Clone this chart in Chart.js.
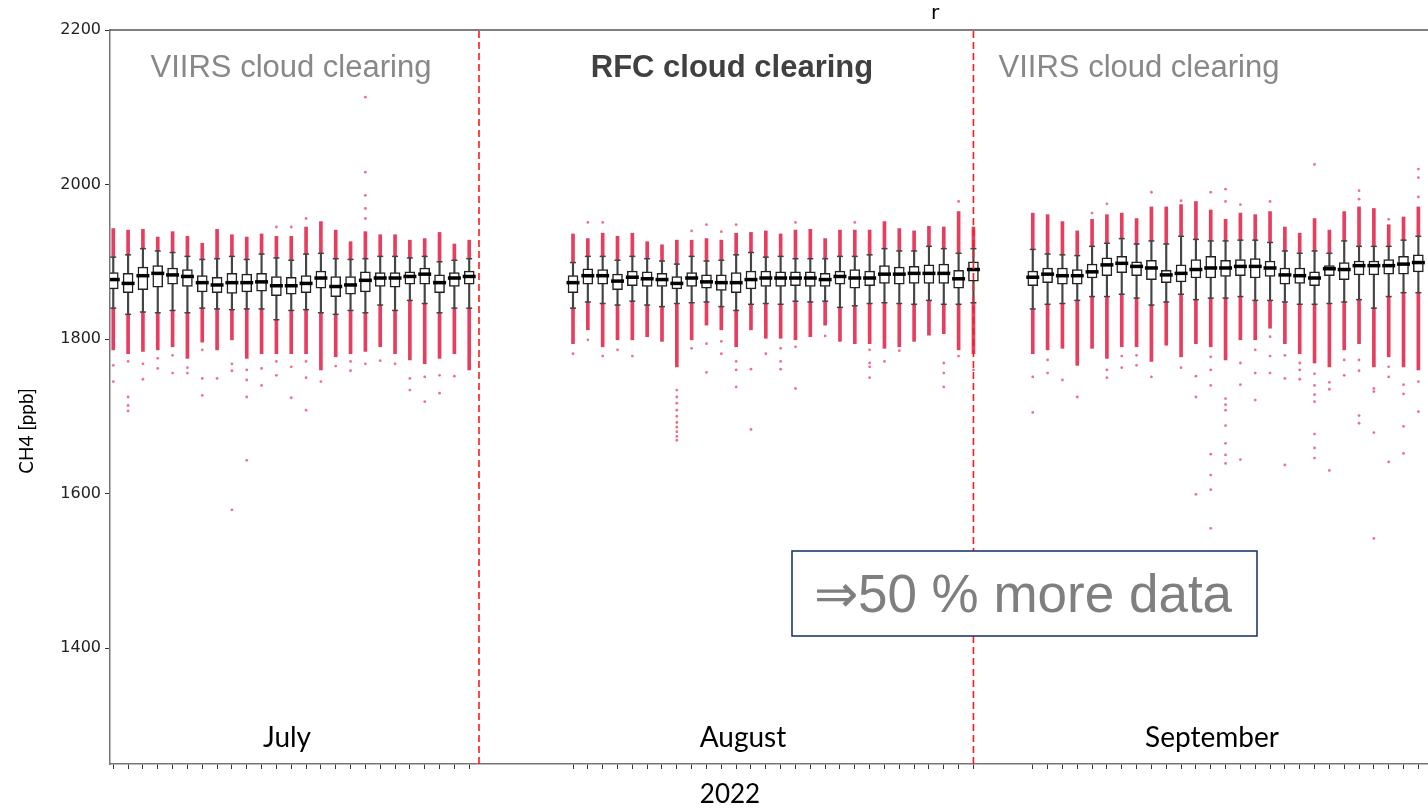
<!DOCTYPE html>
<html>
<head>
<meta charset="utf-8">
<script src="https://cdn.jsdelivr.net/npm/chart.js@4.4.1/dist/chart.umd.min.js"></script>
<style>
  html, body { margin: 0; padding: 0; background: #fff; overflow: hidden; }
  #wrap { width: 1428px; height: 808px; position: relative; }
</style>
</head>
<body>
<div id="wrap"><canvas id="chart"></canvas></div>
<script>
// dias con datos en cada mes y su desplazamiento en el eje (dias desde el 1 de julio)
const julyDays = [1,2,3,4,5,6,7,8,9,10,11,12,13,14,15,16,17,18,19,20,21,22,23,24,25];
const augDays = [1,2,3,4,5,6,7,8,9,10,11,12,13,14,15,16,17,18,19,20,21,22,23,24,25,26,27,28];
const sepDays = [1,2,3,4,5,6,7,8,9,10,11,12,13,14,15,16,17,18,19,20,21,22,23,24,25,26,27];
const monthOffset = [0, 31, 62];
const monthNames = ["July", "August", "September"];

// cajas: bigote inferior, Q1, mediana, Q3, bigote superior (ppb)
const whisLo = [
  1840,1832,1835,1834,1837,1834,1840,1839,1838,1839,1839,1825,1837,1838,1834,1832,1837,1834,1844,1837,1850,1846,1834,1840,1840,
  1840,1848,1846,1844,1849,1844,1842,1846,1847,1848,1842,1837,1845,1846,1845,1849,1848,1849,1841,1843,1846,1847,1846,1845,1850,1845,1845,1847,
  1839,1845,1846,1850,1855,1855,1858,1853,1844,1848,1858,1851,1853,1853,1855,1850,1850,1848,1845,1845,1846,1848,1851,1840,1855,1860,1860
];
const q1 = [
  1865,1860,1864,1867,1871,1868,1861,1860,1859,1861,1862,1856,1858,1860,1866,1855,1858,1861,1868,1867,1871,1871,1860,1868,1871,
  1860,1871,1871,1864,1869,1868,1868,1865,1868,1866,1863,1860,1865,1868,1868,1869,1868,1868,1871,1866,1869,1872,1871,1872,1872,1872,1866,1875,
  1869,1873,1871,1871,1879,1882,1886,1882,1877,1873,1874,1879,1879,1881,1882,1879,1881,1871,1872,1869,1882,1877,1883,1883,1884,1884,1887
];
const median = [
  1877,1872,1882,1885,1883,1881,1873,1870,1873,1873,1874,1869,1869,1872,1879,1868,1870,1876,1879,1879,1881,1884,1873,1879,1881,
  1873,1882,1882,1875,1880,1878,1877,1872,1879,1874,1873,1873,1877,1879,1879,1879,1879,1877,1881,1879,1879,1884,1884,1885,1885,1885,1878,1890,
  1880,1884,1882,1882,1887,1896,1898,1894,1892,1883,1885,1890,1892,1892,1894,1894,1892,1883,1882,1879,1891,1890,1895,1895,1895,1897,1899
];
const q3 = [
  1886,1885,1893,1895,1892,1890,1882,1880,1885,1884,1885,1881,1880,1882,1888,1881,1881,1887,1886,1886,1887,1892,1883,1886,1888,
  1882,1891,1890,1884,1888,1887,1885,1881,1886,1883,1883,1886,1888,1888,1887,1887,1887,1885,1888,1890,1888,1895,1893,1894,1896,1897,1889,1900,
  1888,1892,1892,1890,1897,1905,1907,1900,1902,1889,1896,1903,1907,1902,1903,1904,1901,1892,1892,1887,1895,1899,1901,1901,1903,1907,1909
];
const whisHi = [
  1906,1909,1917,1914,1912,1907,1903,1904,1907,1903,1910,1905,1902,1910,1911,1904,1903,1904,1907,1907,1905,1907,1900,1902,1904,
  1899,1907,1907,1902,1907,1904,1901,1897,1907,1901,1902,1909,1912,1906,1907,1904,1904,1904,1907,1907,1909,1917,1914,1914,1920,1917,1911,1917,
  1916,1910,1909,1908,1920,1924,1930,1923,1927,1923,1933,1929,1927,1927,1928,1928,1925,1914,1911,1914,1911,1927,1920,1920,1920,1928,1933
];
// extremos de la nube densa de valores atipicos
const outTop = [
  1943,1941,1942,1932,1939,1933,1924,1942,1935,1932,1936,1933,1933,1945,1952,1941,1926,1939,1935,1935,1928,1930,1938,1923,1928,
  1936,1930,1937,1933,1937,1926,1922,1928,1928,1930,1928,1937,1938,1940,1936,1941,1942,1930,1941,1941,1941,1952,1943,1940,1946,1945,1965,1945,
  1963,1961,1952,1940,1955,1961,1963,1956,1971,1971,1974,1978,1967,1955,1963,1961,1965,1945,1937,1956,1941,1965,1971,1969,1948,1958,1971
];
const outBot = [
  1786,1781,1784,1786,1790,1775,1796,1786,1799,1775,1781,1781,1781,1781,1760,1777,1781,1784,1790,1781,1773,1768,1775,1781,1760,
  1794,1812,1790,1799,1799,1803,1797,1764,1799,1818,1812,1790,1812,1801,1801,1799,1803,1818,1797,1794,1794,1788,1790,1797,1805,1807,1786,1781,
  1781,1786,1788,1766,1788,1775,1790,1790,1771,1792,1777,1794,1790,1773,1799,1799,1814,1794,1781,1769,1764,1786,1794,1764,1777,1764,1760
];
// atipicos sueltos [posicion, ppb]
const sparse = [
  [0,1766],[0,1745],[1,1771],[1,1725],[1,1714],[1,1707],[2,1768],[2,1748],[3,1775],[3,1762],
  [4,1779],[4,1756],[5,1763],[5,1756],[6,1786],[6,1749],[6,1727],[7,1749],[8,1768],[8,1759],[8,1579],
  [9,1760],[9,1747],[9,1725],[9,1643],[10,1762],[10,1740],[11,1945],[11,1771],[11,1753],
  [12,1945],[12,1764],[12,1724],[13,1956],[13,1771],[13,1750],[13,1708],[14,1745],[15,1765],
  [16,1771],[16,1759],[17,1956],[17,1969],[17,1986],[17,2016],[17,2113],[17,1768],[18,1772],[19,1768],
  [20,1749],[20,1734],[21,1751],[21,1719],[22,1753],[22,1730],[23,1752],
  [31,1781],[32,1951],[32,1799],[33,1951],[33,1778],[34,1786],[35,1778],
  [38,1734],[38,1725],[38,1717],[38,1708],[38,1700],[38,1692],[38,1686],[38,1680],[38,1674],[38,1669],
  [39,1940],[39,1788],[40,1948],[40,1794],[40,1757],[41,1939],[41,1797],[41,1781],
  [42,1948],[42,1771],[42,1760],[42,1738],[43,1761],[43,1683],[44,1781],[45,1788],[45,1771],[45,1761],
  [46,1951],[46,1790],[46,1736],[48,1804],[50,1951],[51,1786],[51,1769],[51,1764],[51,1750],
  [52,1771],[53,1785],[56,1769],[56,1756],[56,1738],[57,1978],[57,1778],[58,1760],
  [62,1751],[62,1705],[63,1773],[63,1756],[64,1747],[65,1725],[66,1963],[67,1975],[67,1760],[67,1750],
  [68,1778],[68,1763],[69,1779],[69,1766],[70,1990],[70,1751],[72,1979],[72,1763],[73,1752],[73,1725],[73,1599],
  [74,1990],[74,1777],[74,1760],[74,1740],[74,1651],[74,1624],[74,1605],[74,1555],
  [75,1994],[75,1978],[75,1723],[75,1715],[75,1708],[75,1688],[75,1665],[75,1650],[75,1639],
  [76,1974],[76,1769],[76,1741],[76,1644],[77,1786],[77,1756],[77,1721],[78,1978],[78,1803],[78,1778],[78,1756],
  [79,1779],[79,1749],[79,1637],[80,1769],[80,1760],[80,1748],
  [81,2026],[81,1755],[81,1740],[81,1728],[81,1719],[81,1677],[81,1659],[81,1646],
  [82,1744],[82,1735],[82,1630],[83,1773],[83,1753],[84,1992],[84,1981],[84,1773],[84,1759],[84,1701],[84,1691],
  [85,1736],[85,1732],[85,1679],[85,1542],[86,1955],[86,1764],[86,1751],[86,1641],
  [87,1741],[87,1729],[87,1687],[87,1652],[88,2020],[88,2009],[88,1984],[88,1745],[88,1706]
];
// cambios de algoritmo de nubes (lineas rojas discontinuas)
const splits = [24.66, 58];
const yTicks = [1400, 1600, 1800, 2000, 2200];

// posiciones en el eje x
const pos = [];
[julyDays, augDays, sepDays].forEach((days, m) => {
  days.forEach((d) => pos.push(monthOffset[m] + d - 1));
});

const RED = "rgba(226, 18, 58, 0.82)";

const bars = (lo, hi) => pos.map((p, i) => ({ x: p, y: [lo[i], hi[i]] }));
const pts = (v) => pos.map((p, i) => ({ x: p, y: v[i] }));

const datasets = [
  { type: "bar", data: bars(outBot, whisLo), backgroundColor: RED, barThickness: 3, grouped: false, order: 9 },
  { type: "bar", data: bars(whisHi, outTop), backgroundColor: RED, barThickness: 3, grouped: false, order: 9 },
  { type: "scatter", data: sparse.map((s) => ({ x: s[0], y: s[1] })), pointRadius: 1.4,
    pointBackgroundColor: "rgba(226, 18, 58, 0.6)", pointBorderWidth: 0, order: 8 },
  { type: "bar", data: bars(whisLo, q1), backgroundColor: "#444", barThickness: 1.5, grouped: false, order: 7 },
  { type: "bar", data: bars(q3, whisHi), backgroundColor: "#444", barThickness: 1.5, grouped: false, order: 7 },
  { type: "bar", data: bars(q1, q3), backgroundColor: "#fff", borderColor: "#222", borderWidth: 1.5,
    borderSkipped: false, barThickness: 10, grouped: false, order: 6 },
  { type: "scatter", data: pts(whisLo), pointStyle: "line", pointRadius: 3, pointBorderColor: "#444", pointBorderWidth: 1.5, order: 5 },
  { type: "scatter", data: pts(whisHi), pointStyle: "line", pointRadius: 3, pointBorderColor: "#444", pointBorderWidth: 1.5, order: 5 },
  { type: "scatter", data: pts(median), pointStyle: "line", pointRadius: 6.5, pointBorderColor: "#000", pointBorderWidth: 3.5, order: 4 },
];
splits.forEach((s) => {
  datasets.push({
    type: "line", data: [{ x: s, y: 1250 }, { x: s, y: 2200 }], borderColor: "#ff1a1a",
    borderWidth: 1.6, borderDash: [7, 4], pointRadius: 0, order: 3,
  });
});

// textos y marco
const decor = {
  id: "decor",
  afterDraw(chart) {
    const { ctx, chartArea: a } = chart;
    ctx.save();
    ctx.strokeStyle = "#555";
    ctx.lineWidth = 1.5;
    ctx.beginPath();
    ctx.moveTo(a.left, a.top);
    ctx.lineTo(a.right, a.top);
    ctx.stroke();

    ctx.textAlign = "center";
    ctx.textBaseline = "middle";
    ctx.fillStyle = "#888";
    ctx.font = "31px 'Liberation Sans', Arial, sans-serif";
    ctx.fillText("VIIRS cloud clearing", 291, 68);
    ctx.fillText("VIIRS cloud clearing", 1139, 68);
    ctx.fillStyle = "#404040";
    ctx.font = "bold 31px 'Liberation Sans', Arial, sans-serif";
    ctx.fillText("RFC cloud clearing", 732, 68);

    ctx.fillStyle = "#000";
    ctx.font = "28px Lato, sans-serif";
    const mx = [287, 743, 1212];
    monthNames.forEach((m, i) => ctx.fillText(m, mx[i], 738));
    ctx.font = "26px Lato, sans-serif";
    ctx.fillText("2022", 730, 795);
    ctx.font = "20px 'DejaVu Sans', sans-serif";
    ctx.fillText("r", 935, 14);

    ctx.save();
    ctx.translate(27, 431);
    ctx.rotate(-Math.PI / 2);
    ctx.font = "19px Lato, sans-serif";
    ctx.fillText("CH4 [ppb]", 0, 0);
    ctx.restore();

    // recuadro
    ctx.fillStyle = "#fff";
    ctx.fillRect(792, 551, 465, 85);
    ctx.strokeStyle = "#1f3a6b";
    ctx.lineWidth = 1.6;
    ctx.strokeRect(792, 551, 465, 85);
    ctx.fillStyle = "#7f7f7f";
    ctx.font = "53px 'Liberation Sans', Arial, sans-serif";
    ctx.fillText("\u21D250 % more data", 1023, 597);
    ctx.restore();
  },
};

new Chart(document.getElementById("chart"), {
  type: "bar",
  data: { datasets },
  options: {
    responsive: true,
    maintainAspectRatio: false,
    animation: false,
    layout: { autoPadding: false, padding: { top: 30, right: 0, left: 0, bottom: 0 } },
    plugins: { legend: { display: false }, tooltip: { enabled: false } },
    scales: {
      x: {
        type: "linear",
        min: -0.22,
        max: 88.65,
        offset: false,
        afterBuildTicks: (scale) => { scale.ticks = pos.map((v) => ({ value: v })); },
        afterFit: (scale) => { scale.height = 44; },
        ticks: { display: false, autoSkip: false },
        grid: { offset: false, drawOnChartArea: false, drawTicks: true, tickLength: 5, color: "#333", tickWidth: 1 },
        border: { display: true, color: "#777", width: 1.5 },
      },
      y: {
        min: 1250,
        max: 2200,
        afterBuildTicks: (scale) => { scale.ticks = yTicks.map((v) => ({ value: v })); },
        afterFit: (scale) => { scale.width = 110; },
        ticks: { color: "#222", font: { family: "'DejaVu Sans', sans-serif", size: 16 }, padding: 4,
          callback: (v) => String(v) },
        grid: { drawOnChartArea: false, tickLength: 5, color: "#333" },
        border: { display: true, color: "#777", width: 1.5 },
      },
    },
  },
  plugins: [decor],
});
</script>
</body>
</html>
